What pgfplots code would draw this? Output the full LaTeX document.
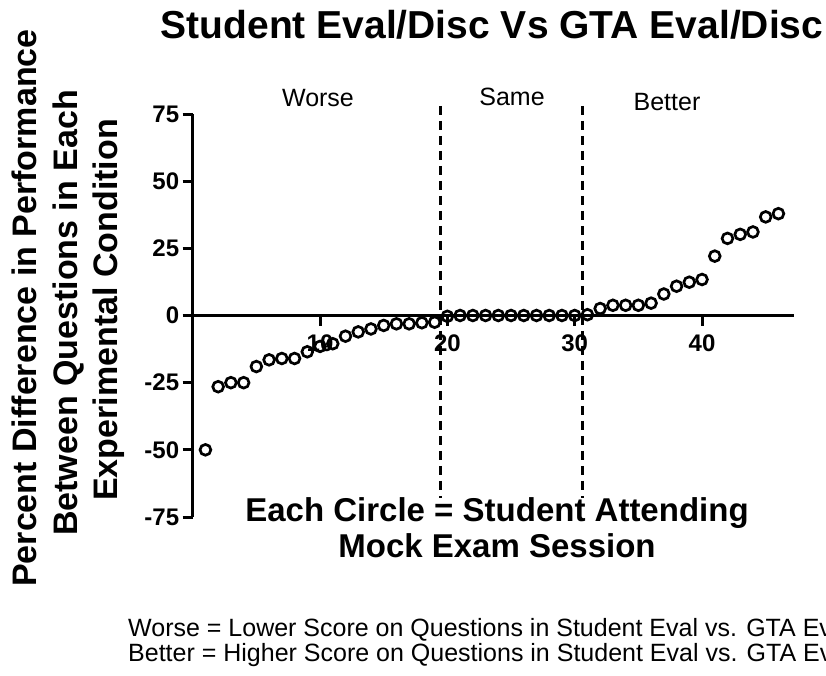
\documentclass[border=0pt]{standalone}
\usepackage{pgfplots}
\pgfplotsset{compat=1.18}
\usepackage{fontspec}
\setmainfont{Liberation Sans}
\begin{document}
\begin{tikzpicture}
\path[use as bounding box] (0pt,0pt) rectangle (826pt,675pt);
\clip (0pt,0pt) rectangle (826pt,675pt);
\begin{axis}[
  at={(192.7pt,158pt)}, anchor=south west,
  scale only axis, width=601pt, height=403pt,
  xmin=0, xmax=47.2, ymin=-75, ymax=75,
  axis x line*=middle, axis y line*=left,
  axis line style={line width=3pt, black},
  hide obscured x ticks=false, hide obscured y ticks=false,
  xtick={10,20,30,40}, ytick={-75,-50,-25,0,25,50,75},
  xticklabels={10,20,30,40}, yticklabels={-75,-50,-25,0,25,50,75},
  tick align=outside, major tick length=10pt,
  tick style={line width=3pt, black},
  ticklabel style={font=\fontsize{24}{24}\selectfont\bfseries},
  xticklabel style={yshift=-6pt},
  /pgf/number format/assume math mode=true,
  clip=false,
]
\addplot[only marks, mark=o, mark size=5.4pt, mark options={line width=2.7pt, black}] coordinates {
(1,-50) (2,-26.5) (3,-25) (4,-25) (5,-19) (6,-16.5) (7,-16) (8,-16) (9,-13.5) (10,-11.5)
(11,-10.5) (12,-7.7) (13,-6.1) (14,-5) (15,-3.7) (16,-3.1) (17,-3.1) (18,-2.7) (19,-2.5) (20,-0.3)
(21,0) (22,0) (23,0) (24,0) (25,0) (26,0) (27,0) (28,0) (29,0) (30,0)
(31,0.3) (32,2.6) (33,3.8) (34,3.8) (35,3.8) (36,4.6) (37,8) (38,10.9) (39,12.4) (40,13.4)
(41,22.1) (42,28.7) (43,30.2) (44,31.1) (45,36.7) (46,37.9)
};
\draw[black, line width=2.5pt, dash pattern=on 9pt off 6pt] (axis cs:19.45,78) -- (axis cs:19.45,-68);
\draw[black, line width=2.5pt, dash pattern=on 9pt off 6pt] (axis cs:30.6,78) -- (axis cs:30.6,-68);
\end{axis}
\node[anchor=base, font=\fontsize{39}{39}\selectfont\bfseries] at (492pt,636pt) {Student Eval/Disc Vs GTA Eval/Disc};
\node[anchor=base, rotate=90, font=\fontsize{34}{34}\selectfont\bfseries] at (36pt,367pt) {Percent Difference in Performance};
\node[anchor=base, rotate=90, font=\fontsize{34}{34}\selectfont\bfseries] at (77pt,362pt) {Between Questions in Each};
\node[anchor=base, rotate=90, font=\fontsize{34}{34}\selectfont\bfseries] at (117pt,365pt) {Experimental Condition};
\node[anchor=base, font=\fontsize{25}{25}\selectfont] at (318pt,568pt) {Worse};
\node[anchor=base, font=\fontsize{25}{25}\selectfont] at (512pt,569pt) {Same};
\node[anchor=base, font=\fontsize{25}{25}\selectfont] at (667pt,564pt) {Better};
\node[anchor=base, font=\fontsize{33}{33}\selectfont\bfseries] at (497pt,154pt) {Each Circle = Student Attending};
\node[anchor=base, font=\fontsize{33}{33}\selectfont\bfseries] at (497pt,118pt) {Mock Exam Session};
\node[anchor=base west, inner sep=0pt, font=\fontsize{25}{25}\selectfont] at (128pt,39pt) {Worse = Lower Score on Questions in Student Eval vs. GTA Eval/Disc};
\node[anchor=base west, inner sep=0pt, font=\fontsize{25}{25}\selectfont] at (128pt,14pt) {Better = Higher Score on Questions in Student Eval vs. GTA Eval/Disc};
\end{tikzpicture}
\end{document}
